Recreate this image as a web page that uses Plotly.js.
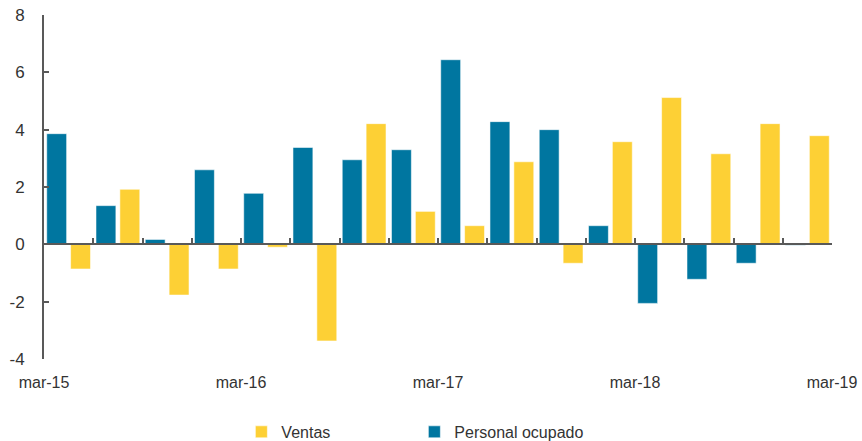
<!DOCTYPE html>
<html>
<head>
<meta charset="utf-8">
<script src="https://cdn.plot.ly/plotly-3.0.1.min.js"></script>
<style>html,body{margin:0;padding:0;background:#fff;}#chart{width:862px;height:441px;}</style>
</head>
<body>
<div id="chart"></div>
<script>
// Quarterly periods (16 quarters)
const categories = ["jun-15","sep-15","dic-15","mar-16","jun-16","sep-16","dic-16","mar-17",
                    "jun-17","sep-17","dic-17","mar-18","jun-18","sep-18","dic-18","mar-19"];
const personalOcupado = [3.86, 1.35, 0.17, 2.6, 1.78, 3.38, 2.95, 3.3, 6.44, 4.28, 4.0, 0.65, -2.06, -1.22, -0.66, -0.03];
const ventas = [-0.86, 1.92, -1.77, -0.86, -0.1, -3.37, 4.21, 1.15, 0.65, 2.88, -0.66, 3.58, 5.12, 3.16, 4.21, 3.79];
const xTickLabels = ["mar-15","mar-16","mar-17","mar-18","mar-19"];
const yTickValues = [-4, -2, 0, 2, 4, 6, 8];

const idx = categories.map((_, i) => i);
const boundaries = categories.map((_, i) => i - 0.5).concat([categories.length - 0.5]);
const labelPos = xTickLabels.map((_, k) => k * 4 - 0.5);
const yTickText = yTickValues.map(v => String(v));

const axisColor = "#595959";
const fontFam = "Liberation Sans, Arial, sans-serif";

const traces = [
  {type: "bar", name: "Personal ocupado", x: idx, y: personalOcupado, text: categories,
   textposition: "none", hoverinfo: "text+y",
   marker: {color: "#0076A0", line: {color: "rgba(255,255,255,0.55)", width: 1}}},
  {type: "bar", name: "Ventas", x: idx, y: ventas, text: categories, textposition: "none",
   hoverinfo: "text+y",
   marker: {color: "#FDD035", line: {color: "rgba(255,255,255,0.55)", width: 1}}},
  // carrier for the category axis drawn along the zero line
  {type: "scatter", mode: "markers", x: [idx[0]], y: [null], xaxis: "x2", yaxis: "y",
   showlegend: false, hoverinfo: "skip"}
];

const layout = {
  width: 862, height: 441,
  margin: {l: 44, r: 30, t: 15, b: 82, autoexpand: false},
  paper_bgcolor: "#fff", plot_bgcolor: "#fff",
  barmode: "group", bargap: 0.03, bargroupgap: 0.167,
  font: {family: fontFam, size: 16, color: "#333"},
  showlegend: true,
  legend: {orientation: "h", traceorder: "reversed", x: 0.47, xanchor: "center",
           y: -0.212, yanchor: "middle", entrywidth: 128, itemwidth: 30,
           font: {family: fontFam, size: 16, color: "#333"}},
  xaxis: {range: [-0.5, categories.length - 0.5], tickmode: "array", tickvals: labelPos,
          ticktext: xTickLabels, ticks: "", showline: false, showgrid: false, zeroline: false,
          ticklabelstandoff: 12, tickfont: {size: 16, color: "#333"}},
  xaxis2: {overlaying: "x", range: [-0.5, categories.length - 0.5], anchor: "free",
           position: 4 / 12, side: "bottom",
           tickmode: "array", tickvals: boundaries, ticks: "inside", ticklen: 5, tickwidth: 2,
           tickcolor: axisColor, showticklabels: false, showline: true, linecolor: axisColor,
           linewidth: 2, showgrid: false, zeroline: false},
  yaxis: {range: [-4, 8], tickmode: "array", tickvals: yTickValues, ticktext: yTickText,
          ticks: "inside", ticklen: 5, tickwidth: 2, tickcolor: axisColor, showline: true,
          linecolor: axisColor, linewidth: 2, showgrid: false, zeroline: false,
          ticklabelstandoff: 14, tickfont: {size: 17, color: "#333"}}
};

Plotly.newPlot("chart", traces, layout, {displayModeBar: false, staticPlot: true});
</script>
</body>
</html>
